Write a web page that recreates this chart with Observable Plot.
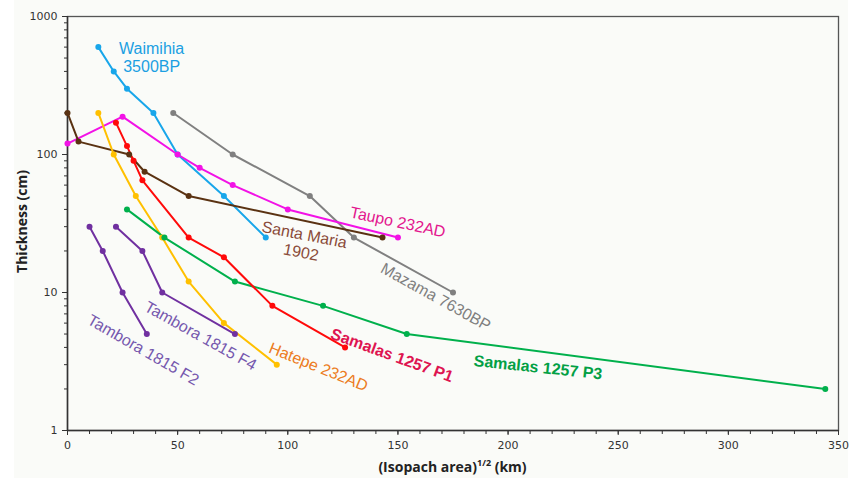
<!DOCTYPE html>
<html>
<head>
<meta charset="utf-8">
<script src="https://cdn.jsdelivr.net/npm/d3@7"></script>
<script src="https://cdn.jsdelivr.net/npm/@observablehq/plot@0.6"></script>
<style>
  body { margin: 0; background: #fff; }
  #wrap { position: relative; width: 860px; height: 478px;
    background: linear-gradient(to right, #fff 0, #fff 14px, #fafbf8 14px, #fafbf8 848px, #fff 848px); }
  #xtitle { position: absolute; left: 67px; width: 771px; top: 455px; height: 23px; line-height: 23px;
    text-align: center; font-family: "Open Sans", sans-serif; font-weight: bold; font-size: 14px; color: #222; }
  #xtitle sup { font-size: 9px; vertical-align: 6px; line-height: 0; }
</style>
</head>
<body>
<div id="wrap"><div id="chart"></div><div id="xtitle">(Isopach area)<sup>1/2</sup> (km)</div></div>
<script>
// ---- data: [sqrt(isopach area) km, thickness cm]
const waimihia   = [[14,600],[21,400],[27,300],[39,200],[50,100],[71,50],[90,25]];
const mazama     = [[48,200],[75,100],[110,50],[130,25],[175,10]];
const taupo      = [[0,120],[25,188],[50,100],[60,80],[75,60],[100,40],[150,25]];
const santaMaria = [[0,200],[5,124],[28,100],[35,75],[55,50],[143,25]];
const hatepe     = [[14,200],[21,100],[31,50],[43,25],[55,12],[71,6],[95,3]];
const samalasP1  = [[22,170],[27,115],[30,90],[34,65],[55,25],[71,18],[93,8],[126,4]];
const samalasP3  = [[27,40],[44,25],[76,12],[116,8],[154,5],[344,2]];
const tamboraF2  = [[10,30],[16,20],[25,10],[36,5]];
const tamboraF4  = [[22,30],[34,20],[43,10],[76,5]];

const seriesNames  = ["Mazama","Waimihia","Taupo","Santa Maria","Hatepe","Samalas P3","Samalas P1","Tambora F2","Tambora F4"];
const seriesData   = [mazama, waimihia, taupo, santaMaria, hatepe, samalasP3, samalasP1, tamboraF2, tamboraF4];
const seriesColors = ["#808080","#18a6ea","#f212e6","#5a3212","#ffc000","#00b04c","#ff0a0a","#7030a0","#7030a0"];

// ---- annotation labels
const labelText   = ["Waimihia\n3500BP","Taupo 232AD","Santa Maria\n1902","Mazama 7630BP","Hatepe 232AD","Tambora 1815 F4","Tambora 1815 F2"];
const labelX      = [38.2, 150, 106.8, 167.3, 114, 60.5, 34.5];
const labelY      = [509, 32.6, 22.8, 9.35, 2.91, 4.88, 3.86];
const labelRotate = [0, 12, 11, 29, 22, 29, 30];
const labelColor  = ["#1b9fe2","#e3168e","#8a4b3a","#7f7f7f","#ec7c22","#7658ae","#7658ae"];

const boldText   = ["Samalas 1257 P1","Samalas 1257 P3"];
const boldX      = [147.3, 213.6];
const boldY      = [3.5, 2.86];
const boldRotate = [20, 6];
const boldColor  = ["#de1450","#03a045"];

const xMajor = d3.range(0, 351, 50);
const xMinor = d3.range(0, 351, 10);
const yMajor = [1, 10, 100, 1000];
const yMinor = [1, 10, 100].flatMap(d => d3.range(2, 10).map(k => k * d));

const rows = seriesNames.flatMap((s, i) => seriesData[i].map(([x, y]) => ({s, x, y})));
const labels = labelText.map((t, i) => ({t, x: labelX[i], y: labelY[i], r: labelRotate[i], c: labelColor[i]}));
const bolds = boldText.map((t, i) => ({t, x: boldX[i], y: boldY[i], r: boldRotate[i], c: boldColor[i]}));

const chart = Plot.plot({
  width: 860, height: 455,
  marginLeft: 67, marginRight: 22, marginTop: 16, marginBottom: 25,
  style: {background: "transparent", fontFamily: "DejaVu Sans", fontSize: "11px", color: "#333"},
  x: {domain: [0, 350]},
  y: {type: "log", domain: [1, 1000]},
  color: {domain: seriesNames, range: seriesColors},
  marks: [
    Plot.frame({stroke: "#555", strokeWidth: 1.3}),
    Plot.axisX({ticks: xMinor, tickSize: 4, tickFormat: () => "", label: null}),
    Plot.axisX({ticks: xMajor, tickSize: 5, tickPadding: 6, tickFormat: d => String(d), label: null}),
    Plot.axisY({ticks: yMinor, tickSize: 3, tickFormat: () => "", label: null}),
    Plot.axisY({ticks: yMajor, tickSize: 5, tickPadding: 5, tickFormat: d => String(d), label: null}),
    Plot.ruleX([0], {stroke: "#333", strokeWidth: 1.5}),
    Plot.ruleY([1], {stroke: "#333", strokeWidth: 1.5}),
    Plot.line(rows, {x: "x", y: "y", z: "s", stroke: "s", strokeWidth: 2}),
    Plot.dot(rows, {x: "x", y: "y", fill: "s", r: 3}),
    Plot.text(labels, {x: "x", y: "y", text: "t", rotate: "r", fill: "c", fontSize: 16,
      fontFamily: "Liberation Sans", lineHeight: 1.12}),
    Plot.text(bolds, {x: "x", y: "y", text: "t", rotate: "r", fill: "c", fontSize: 16,
      fontWeight: "bold", fontFamily: "Liberation Sans"}),
    Plot.text(["Thickness (cm)"], {frameAnchor: "left", textAnchor: "middle", dx: -45, dy: -2, rotate: -90,
      fontSize: 14, fontWeight: "bold", fontFamily: "Open Sans", fill: "#222"})
  ]
});
document.getElementById("chart").appendChild(chart);
</script>
</body>
</html>
